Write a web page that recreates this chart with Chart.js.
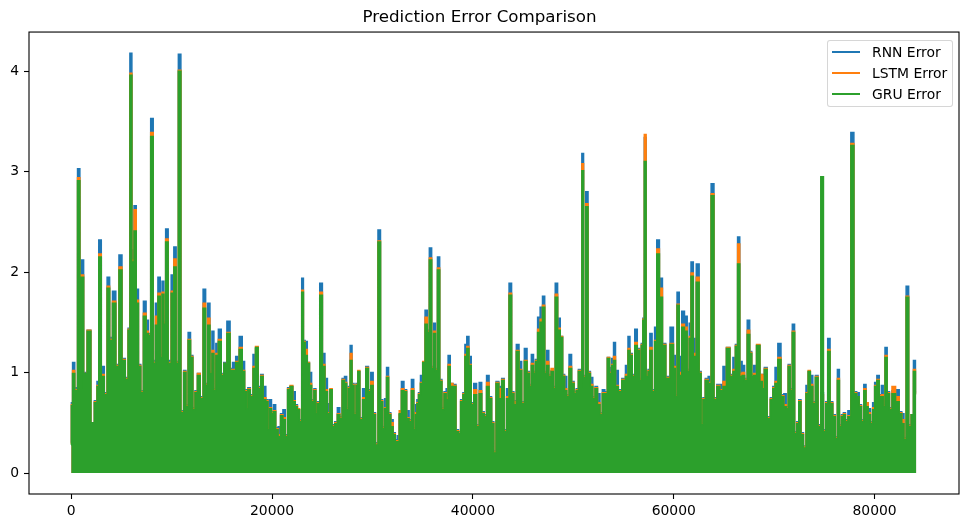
<!DOCTYPE html>
<html>
<head>
<meta charset="utf-8">
<title>Prediction Error Comparison</title>
<script src="https://cdn.jsdelivr.net/npm/chart.js@4.4.1/dist/chart.umd.min.js"></script>
<style>
    html, body { margin: 0; padding: 0; background: #fff; }
    #wrap { position: relative; width: 968px; height: 528px; }
    #legend {
        position: absolute; left: 827px; top: 40px; width: 124px; height: 65px;
        border: 1px solid rgba(204, 204, 204, 0.8); border-radius: 3px;
        background: rgba(255, 255, 255, 0.8);
        font-family: "DejaVu Sans", sans-serif; font-size: 13.9px; color: #000;
    }
    .row { position: absolute; left: 0; height: 20px; line-height: 20px; white-space: nowrap; }
    .swatch { position: absolute; left: 4px; top: 9px; width: 28px; height: 2px; }
    .label { position: absolute; left: 44px; top: 0; }
</style>
</head>
<body>
<div id="wrap">
    <canvas id="lineChart" width="968" height="528"></canvas>
    <div id="legend"></div>
</div>
<script>
// sample index (x) of each reading, taken along the envelope of the plot
const steps = [
    0, 30, 230, 460, 790, 920, 1080, 1380, 1780, 2120, 2480, 2640, 2840, 3140, 3440, 3700, 3940, 4270, 4600, 4900, 5200, 5560, 5760, 5920, 6150, 6350, 6590, 6790, 7050, 7320, 7580, 7780, 8040, 8280, 8480, 8780, 8940, 9140, 9300, 9500, 9800, 10100, 10330, 10560, 10770, 11060, 11320, 11520, 11760, 11990, 12220, 12420,
    12710, 12980, 13280, 13480, 13710, 13910, 14110, 14300, 14500, 14800, 15070, 15300, 15700, 15930, 16190, 16560, 16890, 17160, 17360, 17490, 17680, 17980, 18220, 18480, 18750, 18980, 19240, 19510, 19670, 19840, 20040, 20240, 20470, 20730, 20960, 21200, 21430, 21660, 21930, 22190, 22420, 22620, 22850, 23050, 23190, 23390, 23620, 23820, 24050, 24280, 24440, 24610, 24880, 25140, 25380, 25640, 25870, 26100, 26370,
    26630, 26860, 27090, 27330, 27520, 27690, 27860, 28060, 28260, 28460, 28620, 28850, 29180, 29480, 29710, 29950, 30180, 30410, 30680, 30910, 31110, 31300, 31500, 31700, 31940, 32170, 32370, 32560, 32760, 33000, 33260, 33530, 33760, 33990, 34220, 34350, 34490, 34680, 34880, 35120, 35350, 35550, 35770, 36010, 36170, 36370, 36570, 36810, 37010, 37240, 37430, 37630, 37860, 38160, 38460, 38660, 38890, 39120, 39290, 39490, 39720, 39950, 40220,
    40510, 40740, 41010, 41240, 41480, 41740, 41980, 42180, 42430, 42730, 43000, 43230, 43470, 43730, 43970, 44190, 44460, 44720, 44990, 45260, 45520, 45720, 45920, 46150, 46310, 46580, 46810, 47050, 47250, 47440, 47670, 47900, 48100, 48300, 48570, 48830, 49030, 49230, 49460, 49690, 49960, 50190, 50390, 50620, 50780, 50920, 51120, 51350, 51580, 51820, 52050, 52270, 52540, 52770, 53010, 53270, 53510, 53710, 53940, 54070,
    54330, 54630, 55030, 55360, 55530, 55750, 55990, 56250, 56490, 56690, 56850, 56990, 57150, 57350, 57540, 57710, 57980, 58210, 58410, 58740, 59010, 59400, 59870, 60070, 60230, 60430, 60670, 60920, 61220, 61460, 61620, 61820, 62080, 62410, 62650, 62810, 63010, 63280, 63580, 63870, 64140, 64440, 64740, 65070, 65430, 65760, 66030, 66260, 66460, 66690, 66930, 67190, 67450, 67680, 67850, 68050, 68450, 68720,
    68910, 69140, 69470, 69770, 69970, 70210, 70530, 70830, 71100, 71300, 71500, 71700, 71920, 72150, 72350, 72550, 72790, 73050, 73290, 73490, 73720, 73980, 74240, 74510, 74780, 75040, 75230, 75440, 75700, 75970, 76200, 76400, 76600, 76800, 77000, 77200, 77490, 77790, 78090, 78350, 78590, 78810, 79050, 79250, 79480, 79710, 79910, 80110, 80350, 80580, 80780, 80940, 81140, 81370, 81600, 81870, 82320, 82590, 82830, 83030, 83260, 83530, 83760, 83990, 84150
];

const rnnErr = [
    0.30, 0.70, 1.10, 0.85, 3.03, 0.88, 2.12, 1.00, 1.42, 0.47, 0.72, 0.91, 2.32, 1.06, 0.80, 1.95, 1.35, 1.81, 1.08, 2.17, 1.14, 0.95, 1.44, 4.18, 2.22, 2.66, 1.83, 1.08, 0.82, 1.71, 1.52, 1.39, 3.53, 1.12, 1.69, 1.95, 1.18, 1.91, 1.50, 2.43, 1.12, 1.97, 2.25, 1.11, 4.17, 0.62, 1.02, 0.68, 1.40, 1.17, 0.65, 0.82,
    0.99, 0.76, 1.83, 0.89, 1.69, 1.01, 1.41, 0.84, 1.29, 1.43, 0.99, 1.10, 1.51, 1.04, 1.10, 1.16, 1.36, 1.11, 0.83, 0.66, 0.85, 0.78, 1.18, 1.24, 0.86, 0.98, 0.86, 0.73, 0.45, 0.73, 0.61, 0.68, 0.45, 0.46, 0.59, 0.63, 0.38, 0.85, 0.86, 0.81, 0.68, 0.63, 0.53, 1.94, 1.32, 1.31, 1.10, 1.00, 0.73, 0.84, 0.61, 0.71, 1.89, 1.19, 0.94, 0.69, 0.83, 0.48, 0.51,
    0.65, 0.56, 0.94, 0.96, 0.65, 0.86, 1.27, 0.89, 0.60, 0.89, 1.01, 0.55, 0.84, 1.06, 0.83, 1.00, 0.60, 0.30, 2.42, 0.73, 0.46, 0.74, 1.05, 0.60, 0.53, 0.40, 0.33, 0.37, 0.58, 0.91, 0.83, 0.62, 0.53, 0.93, 0.45, 0.68, 0.73, 0.80, 0.97, 1.10, 1.62, 1.42, 2.24, 1.06, 1.49, 1.04, 2.15, 0.93, 0.65, 0.81, 0.84, 1.17, 0.89, 0.88, 0.43, 0.41, 0.73, 0.80, 1.28, 1.36, 1.16, 0.70, 0.89,
    0.48, 0.90, 0.61, 0.58, 0.97, 0.76, 0.51, 0.22, 0.91, 0.86, 0.94, 0.43, 0.84, 1.89, 0.81, 0.72, 1.28, 1.11, 0.71, 1.24, 1.01, 0.88, 1.18, 1.01, 1.13, 1.55, 1.65, 1.76, 1.01, 1.22, 0.98, 1.02, 0.86, 1.89, 1.54, 1.36, 0.98, 0.96, 0.78, 1.18, 0.91, 0.81, 0.84, 1.03, 0.88, 3.18, 0.97, 2.80, 1.01, 0.95, 0.76, 0.86, 0.79, 0.60, 0.83, 0.81, 1.15, 1.05, 1.14, 1.30,
    1.02, 0.83, 0.94, 1.07, 1.36, 1.19, 0.98, 1.43, 1.24, 0.94, 1.29, 1.54, 3.34, 0.98, 1.03, 1.39, 0.83, 1.45, 2.32, 1.94, 1.29, 0.96, 1.45, 1.17, 0.78, 1.80, 1.16, 1.61, 1.56, 1.03, 1.49, 2.10, 1.34, 2.08, 1.01, 0.50, 0.75, 0.94, 0.96, 2.88, 0.75, 0.88, 0.88, 1.06, 1.25, 0.98, 1.15, 1.28, 2.35, 1.11, 1.07, 0.94, 1.52, 1.21, 0.98, 1.07, 1.27, 0.98,
    0.98, 1.05, 0.56, 0.75, 0.86, 1.05, 1.29, 0.78, 0.79, 0.66, 1.08, 0.84, 1.48, 0.41, 0.51, 0.73, 0.40, 0.27, 0.87, 1.01, 0.97, 0.71, 0.97, 0.48, 0.80, 0.43, 0.71, 1.34, 0.71, 0.58, 0.36, 1.03, 0.48, 0.58, 0.60, 0.53, 0.62, 3.39, 0.81, 0.80, 0.68, 0.53, 0.88, 0.70, 0.64, 0.51, 0.70, 0.90, 0.97, 0.78, 0.87, 0.68, 1.25, 0.81, 0.65, 0.82, 0.83, 0.61, 0.59, 0.35, 1.86, 0.48, 0.58, 1.12, 0.81
];

const lstmErr = [
    0.29, 0.68, 1.02, 0.83, 2.94, 0.86, 1.97, 0.99, 1.42, 0.49, 0.71, 0.87, 2.18, 0.98, 0.79, 1.86, 1.33, 1.71, 1.07, 2.05, 1.13, 0.94, 1.43, 3.98, 2.12, 2.62, 1.72, 1.07, 0.81, 1.59, 1.41, 1.38, 3.39, 1.10, 1.56, 1.79, 1.16, 1.80, 1.49, 2.33, 1.10, 1.81, 2.13, 1.10, 4.01, 0.61, 1.01, 0.67, 1.33, 1.16, 0.64, 0.81,
    0.99, 0.75, 1.69, 0.88, 1.54, 1.00, 1.22, 0.83, 1.19, 1.33, 0.98, 1.09, 1.40, 1.03, 1.03, 1.11, 1.25, 1.02, 0.82, 0.65, 0.84, 0.77, 1.06, 1.26, 0.85, 0.97, 0.75, 0.72, 0.44, 0.65, 0.60, 0.62, 0.44, 0.38, 0.58, 0.55, 0.37, 0.84, 0.87, 0.72, 0.67, 0.64, 0.52, 1.82, 1.31, 1.23, 1.10, 0.89, 0.72, 0.83, 0.60, 0.70, 1.80, 1.08, 0.83, 0.60, 0.84, 0.47, 0.50,
    0.59, 0.55, 0.93, 0.90, 0.64, 0.85, 1.19, 0.88, 0.59, 0.88, 1.02, 0.54, 0.75, 1.05, 0.82, 0.91, 0.59, 0.29, 2.31, 0.72, 0.45, 0.65, 0.96, 0.59, 0.50, 0.39, 0.32, 0.32, 0.62, 0.84, 0.82, 0.55, 0.52, 0.84, 0.44, 0.60, 0.70, 0.79, 0.90, 1.11, 1.55, 1.41, 2.14, 1.05, 1.41, 1.03, 2.04, 0.92, 0.64, 0.80, 0.75, 1.08, 0.89, 0.87, 0.42, 0.40, 0.72, 0.79, 1.18, 1.26, 1.08, 0.69, 0.83,
    0.47, 0.82, 0.60, 0.57, 0.90, 0.75, 0.50, 0.21, 0.90, 0.84, 0.93, 0.42, 0.76, 1.79, 0.80, 0.71, 1.22, 1.03, 0.70, 1.12, 1.00, 0.87, 1.09, 1.00, 1.12, 1.43, 1.53, 1.67, 1.00, 1.11, 0.97, 1.04, 0.85, 1.78, 1.44, 1.36, 0.97, 0.84, 0.77, 1.06, 0.90, 0.80, 0.83, 1.02, 0.87, 3.08, 0.96, 2.68, 1.00, 0.88, 0.75, 0.85, 0.70, 0.59, 0.80, 0.80, 1.15, 1.00, 1.08, 1.16,
    0.87, 0.82, 0.93, 0.98, 1.24, 1.18, 0.97, 1.30, 1.23, 0.93, 1.28, 1.53, 3.37, 0.97, 1.02, 1.25, 0.82, 1.32, 2.23, 1.84, 1.28, 0.95, 1.29, 1.06, 0.77, 1.68, 1.00, 1.48, 1.45, 1.02, 1.36, 1.99, 1.19, 1.95, 1.00, 0.49, 0.74, 0.93, 0.90, 2.78, 0.74, 0.87, 0.83, 0.91, 1.25, 0.97, 1.03, 1.27, 2.28, 0.99, 1.00, 0.93, 1.42, 1.20, 0.97, 0.99, 1.28, 0.98,
    0.97, 1.04, 0.55, 0.74, 0.85, 0.91, 1.15, 0.77, 0.68, 0.65, 1.07, 0.83, 1.41, 0.40, 0.50, 0.72, 0.39, 0.26, 0.80, 1.02, 0.88, 0.70, 0.96, 0.47, 0.78, 0.42, 0.70, 1.23, 0.70, 0.57, 0.35, 0.94, 0.47, 0.57, 0.59, 0.52, 0.57, 3.28, 0.80, 0.76, 0.67, 0.52, 0.84, 0.70, 0.60, 0.50, 0.65, 0.87, 0.93, 0.77, 0.78, 0.67, 1.17, 0.80, 0.64, 0.86, 0.76, 0.60, 0.53, 0.34, 1.76, 0.47, 0.58, 1.03, 0.80
];

const gruErr = [
    0.28, 0.67, 0.99, 0.82, 2.91, 0.85, 1.95, 0.99, 1.41, 0.50, 0.70, 0.86, 2.15, 0.96, 0.78, 1.84, 1.32, 1.69, 1.06, 2.02, 1.12, 0.93, 1.42, 3.96, 2.10, 2.41, 1.69, 1.06, 0.80, 1.56, 1.39, 1.37, 3.35, 1.09, 1.47, 1.76, 1.15, 1.78, 1.48, 2.30, 1.09, 1.79, 2.05, 1.09, 4.00, 0.60, 1.00, 0.66, 1.32, 1.15, 0.63, 0.80,
    0.97, 0.74, 1.64, 0.87, 1.47, 0.99, 1.19, 0.82, 1.17, 1.31, 0.97, 1.09, 1.39, 1.02, 1.02, 1.10, 1.23, 1.01, 0.81, 0.64, 0.83, 0.76, 1.04, 1.25, 0.84, 0.96, 0.73, 0.71, 0.43, 0.64, 0.59, 0.61, 0.43, 0.36, 0.57, 0.53, 0.36, 0.83, 0.86, 0.71, 0.66, 0.63, 0.51, 1.80, 1.30, 1.17, 1.09, 0.87, 0.71, 0.82, 0.59, 0.69, 1.77, 1.06, 0.81, 0.59, 0.83, 0.46, 0.49,
    0.58, 0.54, 0.92, 0.89, 0.63, 0.84, 1.12, 0.87, 0.58, 0.87, 1.01, 0.53, 0.73, 1.04, 0.81, 0.87, 0.58, 0.28, 2.30, 0.71, 0.44, 0.64, 0.95, 0.58, 0.46, 0.38, 0.31, 0.31, 0.59, 0.82, 0.81, 0.54, 0.51, 0.82, 0.43, 0.58, 0.69, 0.78, 0.89, 1.10, 1.48, 1.40, 2.12, 1.04, 1.39, 1.02, 2.02, 0.91, 0.63, 0.79, 0.73, 1.06, 0.86, 0.86, 0.41, 0.39, 0.71, 0.78, 1.16, 1.24, 1.07, 0.68, 0.78,
    0.46, 0.79, 0.59, 0.56, 0.86, 0.74, 0.49, 0.20, 0.89, 0.74, 0.92, 0.41, 0.74, 1.77, 0.79, 0.68, 1.21, 1.02, 0.69, 1.11, 0.99, 0.86, 1.07, 0.99, 1.11, 1.40, 1.50, 1.65, 0.99, 1.07, 0.96, 1.01, 0.84, 1.75, 1.42, 1.35, 0.96, 0.82, 0.76, 1.04, 0.89, 0.79, 0.82, 1.01, 0.86, 3.01, 0.95, 2.65, 0.99, 0.86, 0.74, 0.84, 0.68, 0.58, 0.79, 0.79, 1.14, 0.99, 1.07, 1.12,
    0.86, 0.81, 0.92, 0.96, 1.22, 1.17, 0.96, 1.27, 1.22, 0.92, 1.27, 1.52, 3.10, 0.96, 1.01, 1.22, 0.81, 1.31, 2.18, 1.75, 1.27, 0.94, 1.28, 1.04, 0.76, 1.67, 0.97, 1.45, 1.41, 1.01, 1.34, 1.96, 1.16, 1.90, 0.99, 0.48, 0.73, 0.92, 0.89, 2.76, 0.73, 0.86, 0.82, 0.86, 1.24, 0.96, 1.01, 1.26, 2.08, 0.96, 0.97, 0.92, 1.38, 1.19, 0.96, 0.97, 1.27, 0.91,
    0.84, 1.03, 0.54, 0.73, 0.84, 0.89, 1.13, 0.76, 0.66, 0.64, 1.06, 0.82, 1.40, 0.39, 0.49, 0.71, 0.38, 0.25, 0.79, 1.01, 0.86, 0.69, 0.95, 0.46, 2.95, 0.41, 0.69, 1.21, 0.69, 0.56, 0.34, 0.92, 0.46, 0.56, 0.58, 0.51, 0.56, 3.26, 0.79, 0.76, 0.66, 0.51, 0.82, 0.66, 0.58, 0.49, 0.63, 0.86, 0.92, 0.76, 0.76, 0.66, 1.15, 0.79, 0.63, 0.79, 0.71, 0.59, 0.49, 0.33, 1.75, 0.46, 0.58, 1.01, 0.79
];

const seriesLabels = ['RNN Error', 'LSTM Error', 'GRU Error'];
const seriesColors = ['#1f77b4', '#ff7f0e', '#2ca02c'];
const xTicks = [0, 20000, 40000, 60000, 80000];
const yTicks = [0, 1, 2, 3, 4];

[rnnErr, lstmErr, gruErr].forEach(function(arr, i) {
    if (arr.length !== steps.length) {
        throw new Error(seriesLabels[i] + ' has ' + arr.length + ' values, steps has ' + steps.length);
    }
});

function toPoints(values) {
    return steps.map(function(s, i) { return { x: s, y: values[i] }; });
}

// matplotlib draws every spine, chart.js only the axis side
const frame = {
    id: 'frame',
    afterDraw: function(chart) {
        const a = chart.chartArea;
        const ctx = chart.ctx;
        ctx.save();
        ctx.strokeStyle = '#000';
        ctx.lineWidth = 1.1;
        ctx.strokeRect(a.left, a.top, a.right - a.left, a.bottom - a.top);
        ctx.restore();
    }
};

const allSeries = [rnnErr, lstmErr, gruErr];
const datasets = allSeries.map(function(values, i) {
    return {
        label: seriesLabels[i],
        data: toPoints(values),
        borderColor: seriesColors[i],
        backgroundColor: seriesColors[i],
        borderWidth: 1.5,
        pointRadius: 0,
        stepped: 'middle',
        fill: 'origin',
        order: 2 - i   // GRU painted last, like the reference
    };
});

Chart.defaults.font.family = '"DejaVu Sans", sans-serif';
Chart.defaults.color = '#000';

new Chart(document.getElementById('lineChart').getContext('2d'), {
    type: 'line',
    data: { datasets: datasets },
    plugins: [frame],
    options: {
        responsive: false,
        animation: false,
        devicePixelRatio: 1,
        layout: { padding: { left: 0, right: 9, top: 0, bottom: 0 } },
        plugins: {
            legend: { display: false },
            tooltip: { enabled: false },
            title: {
                display: true,
                text: 'Prediction Error Comparison',
                font: { size: 16.7, weight: 'normal' },
                padding: { top: 8, bottom: 4 }
            }
        },
        scales: {
            x: {
                type: 'linear',
                min: -4210,
                max: 88410,
                border: { display: false },
                grid: { drawOnChartArea: false, drawTicks: true, tickLength: 5, tickColor: '#000', tickWidth: 1.1 },
                ticks: {
                    font: { size: 13.9 },
                    padding: 4,
                    maxRotation: 0,
                    callback: function(v) { return String(v); }
                },
                afterBuildTicks: function(scale) {
                    scale.ticks = xTicks.map(function(v) { return { value: v }; });
                },
                afterFit: function(scale) { scale.height = 34; }
            },
            y: {
                type: 'linear',
                min: -0.209,
                max: 4.39,
                border: { display: false },
                grid: { drawOnChartArea: false, drawTicks: true, tickLength: 5, tickColor: '#000', tickWidth: 1.1 },
                ticks: {
                    font: { size: 13.9 },
                    padding: 5,
                    callback: function(v) { return String(v); }
                },
                afterBuildTicks: function(scale) {
                    scale.ticks = yTicks.map(function(v) { return { value: v }; });
                },
                afterFit: function(scale) { scale.width = 29; }
            }
        }
    }
});

// legend box drawn in the upper right corner of the plot, as matplotlib does
const legend = document.getElementById('legend');
seriesLabels.forEach(function(name, i) {
    const row = document.createElement('div');
    row.className = 'row';
    row.style.top = (1 + i * 20.8) + 'px';
    row.style.width = '100%';
    const sw = document.createElement('span');
    sw.className = 'swatch';
    sw.style.background = seriesColors[i];
    const lb = document.createElement('span');
    lb.className = 'label';
    lb.textContent = name;
    row.appendChild(sw);
    row.appendChild(lb);
    legend.appendChild(row);
});
</script>
</body>
</html>
